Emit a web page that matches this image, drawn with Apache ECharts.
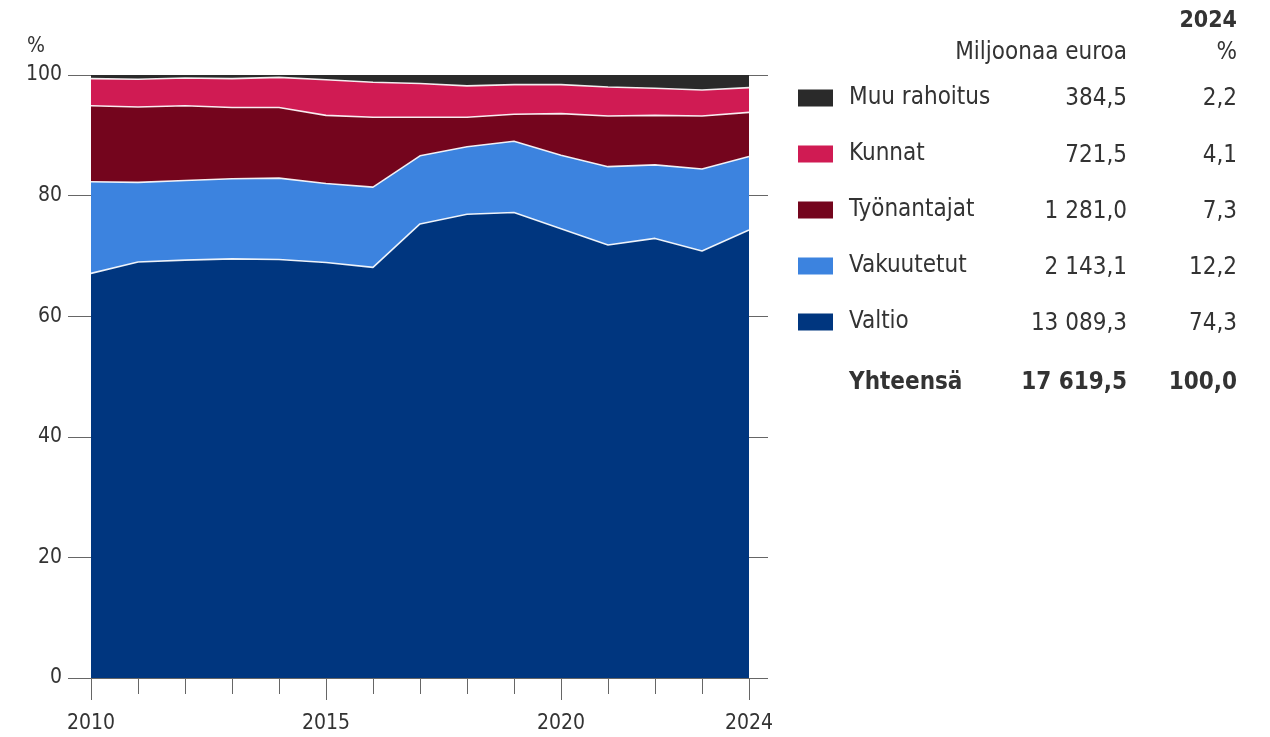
<!DOCTYPE html>
<html>
<head>
<meta charset="utf-8">
<script src="https://cdn.jsdelivr.net/npm/echarts@6/dist/echarts.min.js"></script>
<style>
  html, body { margin: 0; padding: 0; background: #fff; }
  #chart { width: 1270px; height: 737px; }
</style>
</head>
<body>
<div id="chart"></div>
<script>
// Rahoitusosuudet vuosittain, % (pinottu alue, alimmasta ylimpään)
const years = ['2010','2011','2012','2013','2014','2015','2016','2017','2018','2019','2020','2021','2022','2023','2024'];
const valtio      = [67.1, 69.0, 69.3, 69.5, 69.4, 68.9, 68.1, 75.3, 76.9, 77.2, 74.5, 71.8, 72.9, 70.8, 74.3];
const vakuutetut  = [15.2, 13.2, 13.2, 13.3, 13.5, 13.1, 13.3, 11.3, 11.2, 11.8, 12.2, 13.0, 12.2, 13.6, 12.2];
const tyonantajat = [12.6, 12.5, 12.4, 11.8, 11.7, 11.3, 11.6, 6.4, 4.9, 4.5, 6.9, 8.4, 8.2, 8.8, 7.3];
const kunnat      = [4.5, 4.6, 4.6, 4.8, 5.0, 5.9, 5.8, 5.6, 5.2, 4.9, 4.8, 4.8, 4.5, 4.3, 4.1];
const muu         = [0.6, 0.7, 0.5, 0.6, 0.4, 0.8, 1.2, 1.4, 1.8, 1.6, 1.6, 2.0, 2.2, 2.5, 2.2];

// Taulukko vuodelta 2024 (legendan järjestyksessä ylhäältä alas)
const tableNames = ['Muu rahoitus', 'Kunnat', 'Työnantajat', 'Vakuutetut', 'Valtio'];
const tableEuro  = ['384,5', '721,5', '1 281,0', '2 143,1', '13 089,3'];
const tablePct   = ['2,2', '4,1', '7,3', '12,2', '74,3'];
const totalLabel = 'Yhteensä';
const totalEuro  = '17 619,5';
const totalPct   = '100,0';
const yTicks = [0, 20, 40, 60, 80, 100];
const majorYears = ['2010', '2015', '2020', '2024'];

const FONT = "'Liberation Sans Narrow', 'DejaVu Sans Condensed', 'Arial Narrow', sans-serif";
const TEXT = '#333333';
const AXIS = '#666666';

const colors = {
  'Valtio': '#00367f',
  'Vakuutetut': '#3c83df',
  'Työnantajat': '#74051d',
  'Kunnat': '#d01b53',
  'Muu rahoitus': '#2a2a2a'
};

function band(name, data, edge) {
  return {
    name: name,
    type: 'line',
    stack: 'total',
    data: data,
    showSymbol: false,
    symbol: 'none',
    silent: true,
    itemStyle: { color: colors[name] },
    lineStyle: { color: '#ffffff', width: edge ? 1.6 : 0, opacity: 0.9 },
    areaStyle: { color: colors[name], opacity: 1 },
    emphasis: { disabled: true },
    z: 2
  };
}

// Taulukon rivien pystykeskikohdat
const rowY = [99, 156, 212, 268, 324];
const totalY = 383;
const colEuroRight = 1127;
const colPctRight = 1237;

const graphics = [];
graphics.push({ type: 'text', left: 27, top: 36, style: { text: '%', font: '21px ' + FONT, fill: TEXT } });
graphics.push({ type: 'text', x: colPctRight, y: 21, style: { text: '2024', font: 'bold 23px ' + FONT, fill: TEXT, textAlign: 'right', textVerticalAlign: 'middle' } });
graphics.push({ type: 'text', x: colEuroRight, y: 53, style: { text: 'Miljoonaa euroa', font: '24px ' + FONT, fill: TEXT, textAlign: 'right', textVerticalAlign: 'middle' } });
graphics.push({ type: 'text', x: colPctRight, y: 53, style: { text: '%', font: '24px ' + FONT, fill: TEXT, textAlign: 'right', textVerticalAlign: 'middle' } });
tableNames.forEach(function (n, i) {
  graphics.push({ type: 'text', x: colEuroRight, y: rowY[i], style: { text: tableEuro[i], font: '24px ' + FONT, fill: TEXT, textAlign: 'right', textVerticalAlign: 'middle' } });
  graphics.push({ type: 'text', x: colPctRight, y: rowY[i], style: { text: tablePct[i], font: '24px ' + FONT, fill: TEXT, textAlign: 'right', textVerticalAlign: 'middle' } });
});
graphics.push({ type: 'text', x: 849, y: totalY, style: { text: totalLabel, font: 'bold 24px ' + FONT, fill: TEXT, textAlign: 'left', textVerticalAlign: 'middle' } });
graphics.push({ type: 'text', x: colEuroRight, y: totalY, style: { text: totalEuro, font: 'bold 24px ' + FONT, fill: TEXT, textAlign: 'right', textVerticalAlign: 'middle' } });
graphics.push({ type: 'text', x: colPctRight, y: totalY, style: { text: totalPct, font: 'bold 24px ' + FONT, fill: TEXT, textAlign: 'right', textVerticalAlign: 'middle' } });

const chart = echarts.init(document.getElementById('chart'), null, { renderer: 'canvas' });
chart.setOption({
  animation: false,
  backgroundColor: '#ffffff',
  textStyle: { fontFamily: FONT, color: TEXT },
  grid: { left: 91, right: 521, top: 75, bottom: 59, containLabel: false },
  legend: {
    orient: 'vertical',
    left: 798,
    top: 86,
    padding: 0,
    itemWidth: 35,
    itemHeight: 17,
    itemGap: 32,
    icon: 'rect',
    selectedMode: false,
    data: tableNames,
    itemStyle: { borderWidth: 0 },
    textStyle: { fontFamily: FONT, fontSize: 24, lineHeight: 24, color: TEXT, padding: [0, 0, 0, 11] }
  },
  xAxis: [
    {
      type: 'category',
      data: years,
      boundaryGap: false,
      position: 'bottom',
      axisLine: { show: true, lineStyle: { color: AXIS, width: 1 } },
      axisTick: { show: true, length: 16, interval: 0, lineStyle: { color: AXIS } },
      axisLabel: {
        interval: function (i, v) { return majorYears.indexOf(v) >= 0; },
        margin: 35,
        fontFamily: FONT, fontSize: 21, color: TEXT
      },
      splitLine: { show: false }
    },
    {
      type: 'category',
      data: years,
      boundaryGap: false,
      position: 'bottom',
      axisLine: { show: false },
      axisTick: {
        show: true, length: 22, lineStyle: { color: AXIS },
        interval: function (i, v) { return majorYears.indexOf(v) >= 0; }
      },
      axisLabel: { show: false },
      splitLine: { show: false }
    }
  ],
  yAxis: [
    {
      type: 'value',
      min: 0, max: 100, interval: 20,
      position: 'left',
      axisLine: { show: false },
      axisTick: { show: true, length: 23, lineStyle: { color: AXIS } },
      axisLabel: { margin: 29, fontFamily: FONT, fontSize: 21, color: TEXT,
        formatter: function (v) { return yTicks.indexOf(v) >= 0 ? String(v) : ''; } },
      splitLine: { show: false }
    },
    {
      type: 'value',
      min: 0, max: 100, interval: 20,
      position: 'right',
      axisLine: { show: false },
      axisTick: { show: true, length: 19, lineStyle: { color: AXIS } },
      axisLabel: { show: false },
      splitLine: { show: false }
    }
  ],
  series: [
    band('Valtio', valtio, true),
    band('Vakuutetut', vakuutetut, true),
    band('Työnantajat', tyonantajat, true),
    band('Kunnat', kunnat, true),
    band('Muu rahoitus', muu, false)
  ],
  graphic: graphics
});
</script>
</body>
</html>
